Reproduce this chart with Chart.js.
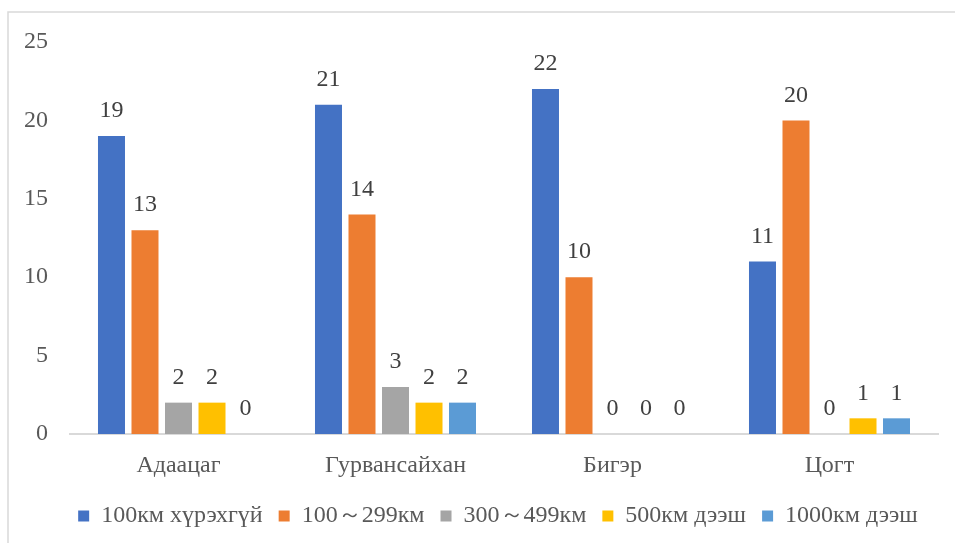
<!DOCTYPE html>
<html>
<head>
<meta charset="utf-8">
<script src="https://cdn.jsdelivr.net/npm/chart.js@4.4.0/dist/chart.umd.min.js"></script>
<style>
  body { margin: 0; background: #fff; }
  #wrap { width: 955px; height: 543px; position: relative; }
</style>
</head>
<body>
<div id="wrap"><canvas id="chart"></canvas></div>
<script>
const categories = ["Адаацаг", "Гурвансайхан", "Бигэр", "Цогт"];
const seriesNames = ["100км хүрэхгүй", "100～299км", "300～499км", "500км дээш", "1000км дээш"];
const under100 = [19, 21, 22, 11];
const from100to299 = [13, 14, 10, 20];
const from300to499 = [2, 3, 0, 0];
const over500 = [2, 2, 0, 1];
const over1000 = [0, 2, 0, 1];
const yTicks = [0, 5, 10, 15, 20, 25];

const colors = ["#4472C4", "#ED7D31", "#A5A5A5", "#FFC000", "#5B9BD5"];
const values = [under100, from100to299, from300to499, over500, over1000];
const font = "'Liberation Serif', serif";
const fontSize = 24;
Chart.defaults.font.family = font;
Chart.defaults.font.size = fontSize;

// frame lines like the original picture
const framePlugin = {
    id: "frame",
    beforeDraw(chart) {
        const c = chart.ctx;
        c.save();
        c.fillStyle = "#fff";
        c.fillRect(0, 0, chart.width, chart.height);
        c.strokeStyle = "#d9d9d9";
        c.lineWidth = 1.5;
        c.beginPath();
        c.moveTo(8, chart.height);
        c.lineTo(8, 12);
        c.lineTo(chart.width, 12);
        c.stroke();
        c.restore();
    },
    // legend in the original sits a bit right of the plot centre
    afterLayout(chart) {
        if (chart.legend) {
            chart.legend.left += 25;
            chart.legend.right += 25;
        }
    }
};

// value labels above bars
const valueLabels = {
    id: "valueLabels",
    afterDatasetsDraw(chart) {
        const c = chart.ctx;
        c.save();
        c.font = fontSize + "px " + font;
        c.fillStyle = "#404040";
        c.textAlign = "center";
        c.textBaseline = "middle";
        chart.data.datasets.forEach((ds, i) => {
            chart.getDatasetMeta(i).data.forEach((bar, j) => {
                c.fillText(ds.data[j], bar.x, bar.y - 25);
            });
        });
        c.restore();
    }
};

new Chart(document.getElementById("chart"), {
    type: "bar",
    data: {
        labels: categories,
        datasets: seriesNames.map((name, i) => ({
            label: name,
            data: values[i],
            backgroundColor: colors[i],
            categoryPercentage: 0.772,
            barPercentage: 0.806
        }))
    },
    options: {
        responsive: true,
        maintainAspectRatio: false,
        animation: false,
        layout: { padding: { left: 8, right: 17, top: 42, bottom: 5 } },
        plugins: {
            tooltip: { enabled: false },
            legend: {
                position: "bottom",
                labels: {
                    color: "#595959",
                    font: { family: font, size: fontSize },
                    boxWidth: 11,
                    boxHeight: 11,
                    padding: 16
                }
            }
        },
        scales: {
            x: {
                grid: { display: false, drawTicks: false },
                border: { display: true, color: "#d9d9d9", width: 2 },
                ticks: { color: "#595959", font: { family: font, size: fontSize }, padding: 17 },
                afterFit(scale) { scale.height = 54; }
            },
            y: {
                min: 0,
                max: 25,
                grid: { display: false, drawTicks: false },
                border: { display: false },
                afterBuildTicks(scale) { scale.ticks = yTicks.map(v => ({ value: v })); },
                ticks: { color: "#595959", font: { family: font, size: fontSize }, padding: 22 },
                afterFit(scale) { scale.width = 62; }
            }
        }
    },
    plugins: [framePlugin, valueLabels]
});
</script>
</body>
</html>
